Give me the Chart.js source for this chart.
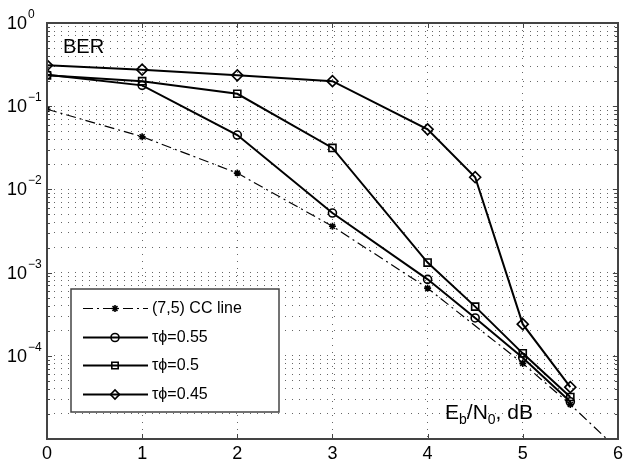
<!DOCTYPE html>
<html>
<head>
<meta charset="utf-8">
<title>BER</title>
<script src="https://cdn.jsdelivr.net/npm/chart.js@4.4.0/dist/chart.umd.min.js"></script>
<style>
html, body { margin: 0; padding: 0; background: #fff; }
canvas { display: block; }
</style>
</head>
<body>
<canvas id="ber" width="625" height="465"></canvas>
<script>
// values
const ebno = [0, 1, 2, 3, 4, 4.5, 5, 5.5];
const ccX = [0, 1, 2, 3, 4, 5, 5.5, 6];
const ccBer = [0.092, 0.043, 0.0157, 0.0036, 6.5e-4, 8.1e-5, 2.6e-5, 7.5e-6];
const ber055 = [0.239, 0.178, 0.045, 0.0052, 8.3e-4, 2.85e-4, 9.5e-5, 2.8e-5];
const ber05 = [0.235, 0.2, 0.141, 0.0315, 1.32e-3, 3.9e-4, 1.07e-4, 3.2e-5];
const ber045 = [0.31, 0.275, 0.235, 0.2, 0.0527, 0.014, 2.4e-4, 4.2e-5];
const seriesNames = ['(7,5) CC line', '\u03C4\u03D5=0.55', '\u03C4\u03D5=0.5', '\u03C4\u03D5=0.45'];

const xTicks = [0, 1, 2, 3, 4, 5, 6];
const yExps = [0, -1, -2, -3, -4];   // labelled decades
const yDecades = [-5, -4, -3, -2, -1];

const fontName = '"Liberation Sans", Arial, sans-serif';
const axisColor = '#444';

function pts(xs, ys) {
    return xs.map((x, i) => ({ x: x, y: ys[i] }));
}

// all log grid values 1..9 x 10^k plus 1
const yGrid = [];
yDecades.forEach(e => {
    for (let m = 1; m <= 9; m++) yGrid.push(m * Math.pow(10, e));
});
yGrid.push(1);

const berPlot = {
    id: 'berPlot',
    beforeDraw(chart) {
        const c = chart.ctx;
        c.save();
        c.fillStyle = '#fff';
        c.fillRect(0, 0, chart.width, chart.height);
        c.restore();
    },
    afterDraw(chart) {
        const c = chart.ctx;
        const a = chart.chartArea;
        const xs = chart.scales.x, ys = chart.scales.y;
        c.save();

        // box and inner ticks
        c.strokeStyle = axisColor;
        c.lineWidth = 1;
        c.beginPath();
        xTicks.forEach(v => {
            const px = Math.round(xs.getPixelForValue(v)) + 0.5;
            c.moveTo(px, a.bottom); c.lineTo(px, a.bottom - 5);
            c.moveTo(px, a.top); c.lineTo(px, a.top + 5);
        });
        yGrid.forEach(v => {
            const py = Math.round(ys.getPixelForValue(v)) + 0.5;
            const major = Math.abs(Math.log10(v) - Math.round(Math.log10(v))) < 1e-9;
            const len = major ? 5 : 3;
            c.moveTo(a.left, py); c.lineTo(a.left + len, py);
            c.moveTo(a.right, py); c.lineTo(a.right - len, py);
        });
        c.stroke();
        c.lineWidth = 2;
        c.strokeRect(Math.round(a.left), Math.round(a.top), Math.round(a.right - a.left), Math.round(a.bottom - a.top));

        // tick labels
        c.fillStyle = '#000';
        c.font = '18px ' + fontName;
        c.textAlign = 'center';
        c.textBaseline = 'middle';
        xTicks.forEach(v => {
            c.fillText(String(v), xs.getPixelForValue(v), 454);
        });
        c.textAlign = 'left';
        yExps.forEach(e => {
            const py = ys.getPixelForValue(Math.pow(10, e));
            c.font = '18px ' + fontName;
            c.textBaseline = 'middle';
            c.fillText('10', 7, py + 1);
            const w = c.measureText('10').width;
            c.font = '12px ' + fontName;
            c.textBaseline = 'alphabetic';
            c.fillText(e === 0 ? '0' : '\u2212' + (-e), 7 + w + 1, py - 5);
        });

        // axis texts inside the plot
        c.font = '20px ' + fontName;
        c.textBaseline = 'alphabetic';
        c.fillText('BER', 63, 53);

        let x = 445;
        const base = 419;
        const part = (txt, size, dy) => {
            c.font = size + 'px ' + fontName;
            c.fillText(txt, x, base + dy);
            x += c.measureText(txt).width;
        };
        part('E', 21, 0);
        part('b', 14, 5);
        part('/N', 21, 0);
        part('0', 14, 5);
        part(', dB', 21, 0);

        // legend
        const lx = 71, ly = 289, lw = 208, lh = 123;
        c.fillStyle = '#fff';
        c.fillRect(lx, ly, lw, lh);
        c.strokeStyle = axisColor;
        c.lineWidth = 1.5;
        c.strokeRect(lx, ly, lw, lh);
        const rowY = [308, 337, 365, 394];
        chart.data.datasets.forEach((ds, i) => {
            const y = rowY[i] + 0.5;
            c.strokeStyle = '#000';
            c.lineWidth = ds.borderWidth;
            c.setLineDash(ds.borderDash || []);
            c.beginPath();
            c.moveTo(83, y); c.lineTo(148, y);
            c.stroke();
            c.setLineDash([]);
            c.fillStyle = ds.pointBackgroundColor;
            c.lineWidth = ds.pointBorderWidth;
            Chart.helpers.drawPoint(c, {
                pointStyle: ds.pointStyle,
                radius: Math.min(ds.pointRadius, 4.5),
                borderWidth: ds.pointBorderWidth,
                rotation: 0
            }, 115, y);
            c.fillStyle = '#000';
            c.font = '16px ' + fontName;
            c.textBaseline = 'middle';
            c.fillText(ds.label, 152, rowY[i] + 1);
        });
        c.restore();
    }
};

const lineStyle = {
    borderColor: '#000',
    pointBorderColor: '#000',
    pointBackgroundColor: 'rgba(255,255,255,0)',
    pointBorderWidth: 1.6,
    borderWidth: 2,
    tension: 0
};

new Chart(document.getElementById('ber'), {
    type: 'line',
    data: {
        datasets: [
            Object.assign({}, lineStyle, {
                label: seriesNames[0], data: pts(ccX, ccBer),
                borderWidth: 1.2, borderDash: [10, 4, 2, 4],
                pointStyle: 'star', pointRadius: 3.5
            }),
            Object.assign({}, lineStyle, {
                label: seriesNames[1], data: pts(ebno, ber055),
                pointStyle: 'circle', pointRadius: 4
            }),
            Object.assign({}, lineStyle, {
                label: seriesNames[2], data: pts(ebno, ber05),
                pointStyle: 'rect', pointRadius: 5
            }),
            Object.assign({}, lineStyle, {
                label: seriesNames[3], data: pts(ebno, ber045),
                pointStyle: 'rectRot', pointRadius: 5.5
            })
        ]
    },
    options: {
        responsive: false,
        animation: false,
        devicePixelRatio: 1,
        layout: { padding: { left: 47, right: 7, top: 23, bottom: 26 } },
        plugins: {
            legend: { display: false },
            tooltip: { enabled: false }
        },
        scales: {
            x: {
                type: 'linear',
                min: 0,
                max: 6,
                ticks: { display: false, stepSize: 1 },
                grid: { color: '#666', lineWidth: 1, drawTicks: false },
                border: { display: false, dash: [1, 6] },
                afterFit(s) { s.height = 0; }
            },
            y: {
                type: 'logarithmic',
                min: 1e-5,
                max: 1,
                ticks: { display: false },
                afterBuildTicks(s) { s.ticks = yGrid.map(v => ({ value: v })); },
                grid: { color: '#666', lineWidth: 1, drawTicks: false },
                border: { display: false, dash: [1, 6] },
                afterFit(s) { s.width = 0; }
            }
        }
    },
    plugins: [berPlot]
});
</script>
</body>
</html>
